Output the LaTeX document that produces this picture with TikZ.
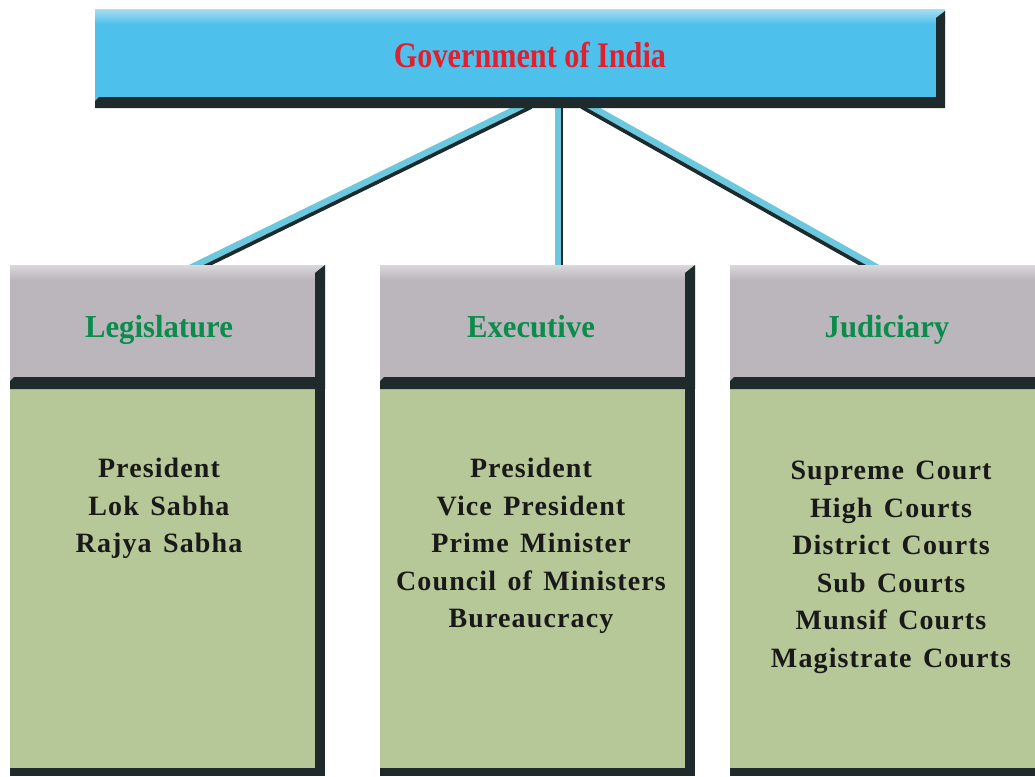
\documentclass[tikz,border=0pt]{standalone}
\usepackage{fontspec}
\setmainfont{Liberation Serif}
\newfontfamily\titlefont[FakeStretch=0.84]{Liberation Serif}
\newfontfamily\headfont[FakeStretch=0.96]{Liberation Serif}
\newfontfamily\bodyfont[LetterSpace=4, WordSpace=1.4]{Liberation Serif}
\definecolor{gblue}{HTML}{4EC0EC}
\definecolor{gbluelight}{HTML}{A4DBF1}
\definecolor{gdark}{HTML}{1E2A2B}
\definecolor{ggray}{HTML}{BAB6BC}
\definecolor{ggraylight}{HTML}{DAD8DB}
\definecolor{ggreen}{HTML}{B7C898}
\definecolor{hgreen}{HTML}{0C8C4C}
\definecolor{tred}{HTML}{E31E2D}
\definecolor{linelight}{HTML}{6CC8DE}
\tikzset{
  titletext/.style={inner sep=0pt, anchor=base, text=tred, font=\titlefont\bfseries\fontsize{36}{40}\selectfont},
  headtext/.style={inner sep=0pt, anchor=base, text=hgreen, font=\headfont\bfseries\fontsize{32}{36}\selectfont},
  bodytext/.style={inner sep=0pt, anchor=north, align=center, text=black!90, font=\bodyfont\bfseries\fontsize{28}{37.5}\selectfont},
  lightline/.style={draw=linelight, line width=10pt},
  darkline/.style={draw=gdark, line width=3.6pt},
}
\newcommand{\govcolumn}[2]{%
  % #1 = left x, #2 = right x
  \fill[ggreen] (#1,388) rectangle (#2,776);
  \fill[gdark] (#2-10,388) rectangle (#2,776);
  \fill[gdark] (#1,768) rectangle (#2,776);
  \fill[ggray] (#1,265) rectangle (#2,388);
  \shade[top color=ggraylight, bottom color=ggray] (#1,265) rectangle (#2,280);
  \fill[gdark] (#1+4,377) -- (#2-10,377) -- (#2-10,273) -- (#2,265) -- (#2,389) -- (#1,389) -- (#1,381) -- cycle;
}
\begin{document}
\begin{tikzpicture}[x=1pt,y=-1pt]
\useasboundingbox (0,0) rectangle (1035,776);
\fill[white] (0,0) rectangle (1035,776);

% connector end points
\coordinate (gL) at (530,104);
\coordinate (gM) at (559,104);
\coordinate (gR) at (583,104);
\coordinate (lT) at (190,270);
\coordinate (eT) at (559,270);
\coordinate (jT) at (878,270);

% connectors
\draw[lightline] (gL) -- (lT);
\draw[lightline, line width=8pt] (gM) -- (eT);
\draw[lightline] (gR) -- (jT);
\draw[darkline, transform canvas={shift={(1.4,3)}}] (gL) -- (lT);
\draw[darkline, line width=2.5pt, transform canvas={shift={(3,0)}}] (gM) -- (eT);
\draw[darkline, transform canvas={shift={(-1.6,2.9)}}] (gR) -- (jT);

% top box
\fill[gblue] (95,10) rectangle (945,108);
\shade[top color=gbluelight, bottom color=gblue] (95,10) rectangle (945,24);
\fill[gdark] (99,97) -- (936,97) -- (936,18) -- (945,11) -- (945,108) -- (95,108) -- (95,101) -- cycle;
\node[titletext] (gov) at (530,67) {Government of India};

% columns
\govcolumn{10}{325}
\govcolumn{380}{695}
\govcolumn{730}{1045}

\node[headtext] (leg) at (159,337) {Legislature};
\node[headtext] (exe) at (531,337) {Executive};
\node[headtext] (jud) at (887,337) {Judiciary};

\node[bodytext] (legB) at (159,458) {President\\Lok Sabha\\Rajya Sabha};
\node[bodytext] (exeB) at (531,458) {President\\Vice President\\Prime Minister\\Council of Ministers\\Bureaucracy};
\node[bodytext] (judB) at (891,461) {Supreme Court\\High Courts\\District Courts\\Sub Courts\\Munsif Courts\\Magistrate Courts};
\end{tikzpicture}
\end{document}
